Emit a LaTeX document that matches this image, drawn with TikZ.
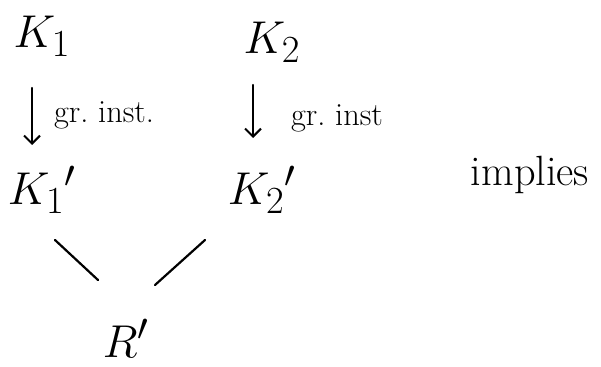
\documentclass[tikz,border=0pt]{standalone}
\usetikzlibrary{arrows.meta}
\begin{document}
\begin{tikzpicture}[x=1pt,y=-1pt,
  lbl/.style={inner sep=0pt,font=\Huge,scale=1.85},
  note/.style={inner sep=0pt,font=\Huge,scale=1.3},
  pen/.style={line width=2.2pt,line cap=round},
  arr/.style={pen,-{Straight Barb[length=8pt,width=16pt,line width=2pt]}}]
\useasboundingbox (0,0) rectangle (601,366);
\node[lbl] (K1) at (42,36) {$K_1$};
\node[lbl] (K2) at (272,42) {$K_2$};
\node[lbl] (K1p) at (42,190) {$K_1{}'$};
\node[lbl] (K2p) at (262,190) {$K_2{}'$};
\node[lbl] (R) at (126,338) {$R'$};
\node[note] (g1) at (104,115) {gr.\ inst.};
\node[note] (g2) at (337,118) {gr.\ inst};
\node[inner sep=0pt,font=\Huge,scale=1.7] (imp) at (530,175) {implies};
\draw[arr] ([shift={(-10,52)}]K1.center) -- ([shift={(-10,-45)}]K1p.center);
\draw[arr] ([shift={(-19,43)}]K2.center) -- ([shift={(-9,-52)}]K2p.center);
\draw[pen] ([shift={(13,50)}]K1p.center) -- ([shift={(-28,-58)}]R.center);
\draw[pen] ([shift={(-57,50)}]K2p.center) -- ([shift={(29,-53)}]R.center);
\end{tikzpicture}
\end{document}
